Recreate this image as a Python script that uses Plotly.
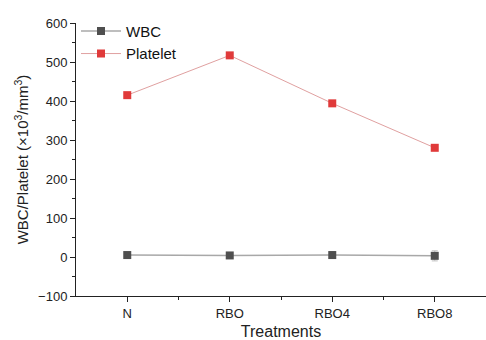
import plotly.graph_objects as go

categories = ["N", "RBO", "RBO4", "RBO8"]
wbc = [5, 4, 5, 3]
wbc_err = [1, 1, 8, 13]
platelet = [415, 517, 394, 280]

x_idx = list(range(len(categories)))

fig = go.Figure()
fig.add_trace(go.Scatter(
    x=x_idx, y=wbc, name="WBC", mode="lines+markers",
    line=dict(color="#a8a8a8", width=1.5),
    marker=dict(symbol="square", size=8, color="#4f4f4f"),
    error_y=dict(type="data", array=wbc_err, color="#c0c0c0", thickness=1, width=3),
))
fig.add_trace(go.Scatter(
    x=x_idx, y=platelet, name="Platelet", mode="lines+markers",
    line=dict(color="#e0a0a0", width=1),
    marker=dict(symbol="square", size=8, color="#e03a3a"),
))

fig.update_layout(
    width=486, height=340,
    margin=dict(l=76, r=0, t=23, b=42),
    paper_bgcolor="white", plot_bgcolor="white",
    font=dict(family="Liberation Sans, Arial, sans-serif", color="#222222", size=13),
    showlegend=True,
    legend=dict(x=0.0, y=1.03, xanchor="left", yanchor="top",
                font=dict(size=15, color="#111111"), bgcolor="rgba(0,0,0,0)",
                tracegroupgap=0, itemwidth=40),
    xaxis=dict(
        range=[-0.5, 3.5], tickvals=x_idx, ticktext=categories,
        showline=True, linecolor="#222222", linewidth=1,
        ticks="outside", ticklen=5, tickcolor="#222222",
        minor=dict(tickvals=[0.5, 1.5, 2.5], ticks="outside", ticklen=3, tickcolor="#222222"),
        showgrid=False, zeroline=False,
        title=dict(text="Treatments", font=dict(size=16), standoff=8),
        tickfont=dict(size=13),
    ),
    yaxis=dict(
        range=[-100, 600], dtick=100,
        showline=True, linecolor="#222222", linewidth=1,
        ticks="outside", ticklen=5, tickcolor="#222222",
        minor=dict(dtick=50, ticks="outside", ticklen=3, tickcolor="#222222"),
        showgrid=False, zeroline=False,
        title=dict(text="WBC/Platelet (×10<sup>3</sup>/mm<sup>3</sup>)", font=dict(size=15), standoff=5),
        tickfont=dict(size=13),
    ),
)

fig.write_html("out.html")
